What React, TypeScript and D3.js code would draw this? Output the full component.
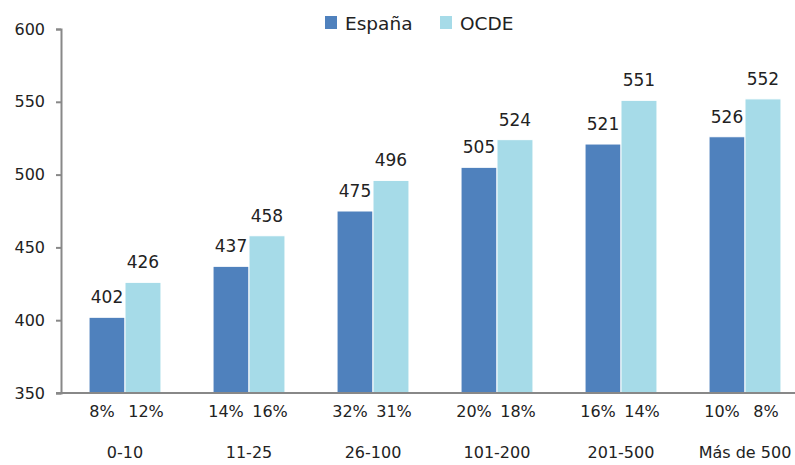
import React, { useEffect, useRef } from 'react';
import * as d3 from 'd3';

const categories = ['0-10', '11-25', '26-100', '101-200', '201-500', 'Más de 500'];
const series = ['España', 'OCDE'];
const espana = [402, 437, 475, 505, 521, 526];
const ocde = [426, 458, 496, 524, 551, 552];
const espanaPct = ['8%', '14%', '32%', '20%', '16%', '10%'];
const ocdePct = ['12%', '16%', '31%', '18%', '14%', '8%'];
const yTicks = [350, 400, 450, 500, 550, 600];

const colors = ['#4f81bd', '#a6dbe8'];

const App = () => {
  const svgRef = useRef<SVGSVGElement>(null);

  useEffect(() => {
    document.body.style.margin = '0';
    const width = 795;
    const height = 465;
    const margin = { top: 29, right: -12, bottom: 72, left: 61 };

    const svg = d3.select(svgRef.current)
      .attr('width', width)
      .attr('height', height)
      .style('display', 'block')
      .style('font-family', '"DejaVu Sans", sans-serif');

    svg.selectAll('*').remove();

    // groups
    const x0 = d3.scaleBand()
      .domain(categories)
      .range([margin.left + 2, width - margin.right])
      .paddingInner(0.42)
      .paddingOuter(0.21);

    const x1 = d3.scaleBand()
      .domain(series)
      .range([0, x0.bandwidth()]);

    const y = d3.scaleLinear()
      .domain([350, 600])
      .range([height - margin.bottom, margin.top]);

    const rows = categories.map((c, i) => ({
      cat: c,
      vals: [
        { s: series[0], v: espana[i], pct: espanaPct[i], off: -5 },
        { s: series[1], v: ocde[i], pct: ocdePct[i], off: 3 },
      ],
    }));

    const groups = svg.selectAll('.group')
      .data(rows)
      .enter()
      .append('g')
      .attr('class', 'group')
      .attr('transform', d => `translate(${x0(d.cat)},0)`);

    // bars
    groups.selectAll('rect')
      .data(d => d.vals)
      .enter()
      .append('rect')
      .attr('x', d => x1(d.s)!)
      .attr('y', d => y(d.v))
      .attr('width', x1.bandwidth())
      .attr('height', d => y(350) - y(d.v))
      .attr('fill', (d, i) => colors[i])
      .attr('stroke', '#fff')
      .attr('stroke-width', 1);

    // value labels
    groups.selectAll('.val')
      .data(d => d.vals)
      .enter()
      .append('text')
      .attr('class', 'val')
      .attr('x', d => x1(d.s)! + x1.bandwidth() / 2)
      .attr('y', d => y(d.v) - 14)
      .attr('text-anchor', 'middle')
      .attr('font-size', 17)
      .attr('fill', '#222')
      .text(d => d.v);

    // percent labels
    groups.selectAll('.pct')
      .data(d => d.vals)
      .enter()
      .append('text')
      .attr('class', 'pct')
      .attr('x', d => x1(d.s)! + x1.bandwidth() / 2 + d.off)
      .attr('y', height - margin.bottom + 24)
      .attr('text-anchor', 'middle')
      .attr('font-size', 16)
      .attr('fill', '#222')
      .text(d => d.pct);

    // category labels
    groups.append('text')
      .attr('x', x0.bandwidth() / 2)
      .attr('y', height - 7)
      .attr('text-anchor', 'middle')
      .attr('font-size', 16)
      .attr('fill', '#222')
      .text(d => d.cat);

    // y axis
    const yAxis = svg.append('g')
      .attr('transform', `translate(${margin.left},0)`)
      .call(d3.axisLeft(y).tickValues(yTicks).tickSize(5).tickPadding(11).tickFormat(d3.format('d')));
    yAxis.select('.domain').attr('stroke', '#888').attr('stroke-width', 2);
    yAxis.selectAll('.tick line').attr('stroke', '#888').attr('stroke-width', 2);
    yAxis.selectAll('.tick text')
      .attr('font-size', 16)
      .attr('fill', '#222')
      .style('font-family', '"DejaVu Sans", sans-serif');

    // x axis line
    svg.append('line')
      .attr('x1', margin.left - 5)
      .attr('x2', width)
      .attr('y1', y(350))
      .attr('y2', y(350))
      .attr('stroke', '#888')
      .attr('stroke-width', 2);

    // legend
    const legendX = [325, 440];
    const legend = svg.selectAll('.legend')
      .data(series)
      .enter()
      .append('g')
      .attr('class', 'legend')
      .attr('transform', (d, i) => `translate(${legendX[i]},16)`);
    legend.append('rect')
      .attr('width', 12)
      .attr('height', 13)
      .attr('fill', (d, i) => colors[i]);
    legend.append('text')
      .attr('x', 20)
      .attr('y', 14)
      .attr('font-size', 18.5)
      .attr('fill', '#222')
      .text(d => d);
  }, []);

  return <svg ref={svgRef}></svg>;
};

export default App;
